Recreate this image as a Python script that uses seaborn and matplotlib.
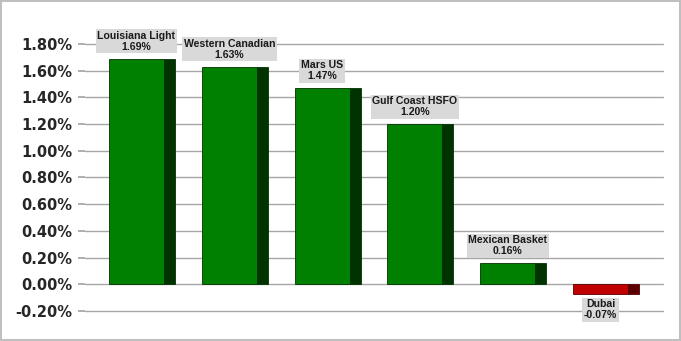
import matplotlib
matplotlib.use("Agg")
import matplotlib.pyplot as plt
import seaborn as sns
import pandas as pd
from matplotlib.patches import Rectangle
from matplotlib.ticker import FuncFormatter

categories = ["Louisiana Light", "Western Canadian", "Mars US", "Gulf Coast HSFO", "Mexican Basket", "Dubai"]
values = [1.69, 1.63, 1.47, 1.20, 0.16, -0.07]
value_labels = ["1.69%", "1.63%", "1.47%", "1.20%", "0.16%", "-0.07%"]
yticks = [-0.2, 0.0, 0.2, 0.4, 0.6, 0.8, 1.0, 1.2, 1.4, 1.6, 1.8]

sns.set_theme(style="white")
plt.rcParams['font.family'] = ['Liberation Sans', 'DejaVu Sans']

face_pos, side_pos = "#008000", "#003300"
face_neg, side_neg = "#c00000", "#5a0000"

df = pd.DataFrame({"cat": categories, "val": values})
palette = {c: (face_pos if v >= 0 else face_neg) for c, v in zip(categories, values)}

fig = plt.figure(figsize=(6.81, 3.41), dpi=100, edgecolor="#bfbfbf", linewidth=1.5)
ax = fig.add_axes([0.1248, 0.088, 0.8488, 0.783])
sns.barplot(data=df, x="cat", y="val", hue="cat", palette=palette, width=0.71,
            legend=False, ax=ax, saturation=1, zorder=3)

ax.set_ylim(-0.2, 1.8)
ax.set_xlim(-0.614, len(categories) - 1 + 0.614)
ax.set_yticks(yticks)
ax.yaxis.set_major_formatter(FuncFormatter(lambda v, p: f"{v:.2f}%"))
ax.grid(axis="y", color="#a6a6a6", linewidth=1, zorder=0)
ax.set_axisbelow(True)
for gl in ax.get_ygridlines():
    gl.set_clip_on(False)
for s in ax.spines.values():
    s.set_visible(False)
ax.set_xticks([])
ax.set_xlabel("")
ax.set_ylabel("")
ax.tick_params(axis="y", left=True, length=5, color="#a6a6a6", labelsize=11, pad=4)
for t in ax.get_yticklabels():
    t.set_fontweight("bold")
    t.set_family(["DejaVu Sans"])
    t.set_fontsize(10.5)

frac = 0.833
for patch, v, cat, lab in zip(ax.patches, values, categories, value_labels):
    x0 = patch.get_x()
    w = patch.get_width()
    y0 = patch.get_y()
    h = patch.get_height()
    side = side_pos if v >= 0 else side_neg
    patch.set_width(w * frac)
    patch.set_edgecolor(side)
    patch.set_linewidth(0.6)
    ax.add_patch(Rectangle((x0 + w * frac, y0), w * (1 - frac), h,
                           facecolor=side, edgecolor=side, linewidth=0.6, zorder=3))
    cx = x0 + w * frac / 2
    if v >= 0:
        ax.annotate(f"{cat}\n{lab}", (cx, v), xytext=(0, 5), textcoords="offset points",
                    ha="center", va="bottom", fontsize=7.6, fontweight="bold",
                    linespacing=1.1, color="#1a1a1a", zorder=5,
                    bbox=dict(boxstyle="square,pad=0.15", facecolor="#d9d9d9", edgecolor="none"))
    else:
        ax.annotate(f"{cat}\n{lab}", (cx, v), xytext=(0, -4), textcoords="offset points",
                    ha="center", va="top", fontsize=7.6, fontweight="bold",
                    linespacing=1.1, color="#1a1a1a", zorder=5,
                    bbox=dict(boxstyle="square,pad=0.15", facecolor="#d9d9d9", edgecolor="none"))

fig.savefig("out.png", dpi=100, edgecolor=fig.get_edgecolor())
